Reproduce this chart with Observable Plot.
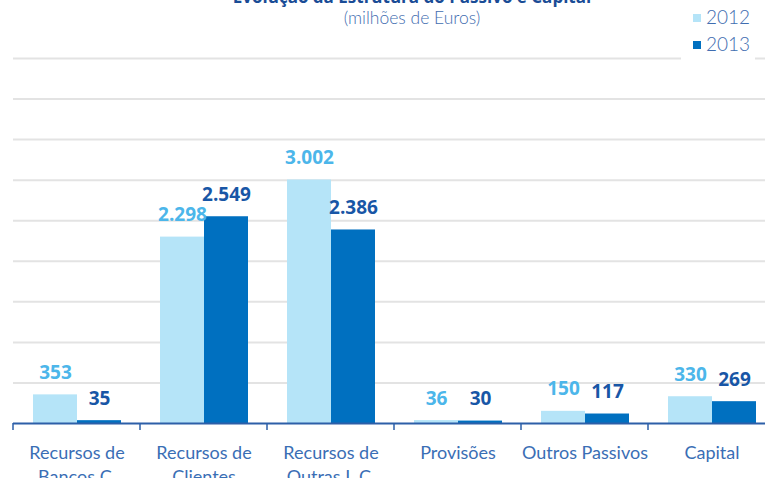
<!DOCTYPE html>
<html>
<head>
<meta charset="utf-8">
<script src="https://cdn.jsdelivr.net/npm/d3@7"></script>
<script src="https://cdn.jsdelivr.net/npm/@observablehq/plot@0.6"></script>
<style>
  html, body { margin: 0; padding: 0; background: #fff; overflow: hidden; }
  #wrap { position: relative; width: 765px; height: 478px; overflow: hidden; font-family: 'Open Sans', 'Noto Sans', sans-serif; }
  #title { position: absolute; left: 0; width: 824px; top: -13px; text-align: center; font-size: 17px; font-weight: bold; color: #1a4c96; line-height: 20px; white-space: nowrap; }
  #subtitle { position: absolute; left: 0; width: 824px; top: 7px; text-align: center; font-size: 17.5px; font-weight: 300; color: #3f6db0; line-height: 22px; white-space: nowrap; font-family: Lato, sans-serif; }
  #legend { position: absolute; left: 681px; top: 0; width: 74px; height: 62px; background: #fff; z-index: 2; }
  .item { position: absolute; left: 12px; height: 20px; line-height: 20px; font-size: 19px; font-weight: 300; color: #3f6db0; font-family: Lato, sans-serif; }
  .sw { display: inline-block; width: 8px; height: 8px; margin-right: 5px; vertical-align: 2px; }
  #chart { position: absolute; left: 0; top: 35px; width: 780px; }
  #chart svg { max-width: none !important; }
</style>
</head>
<body>
<div id="wrap">
  <div id="title"></div>
  <div id="subtitle"></div>
  <div id="legend"></div>
  <div id="chart"></div>
</div>
<script>
const title = "Evolução da Estrutura do Passivo e Capital";
const subtitle = "(milhões de Euros)";
const categories = ["Recursos de\nBancos C.", "Recursos de\nClientes", "Recursos de\nOutras I. C.", "Provisões", "Outros Passivos", "Capital"];
const years = ["2012", "2013"];
const values2012 = [353, 2298, 3002, 36, 150, 330];
const values2013 = [35, 2549, 2386, 30, 117, 269];
const yTicks = [500, 1000, 1500, 2000, 2500, 3000, 3500, 4000, 4500];
const barColors = ["#b5e4f8", "#0070c0"];
const labelColors = ["#4cb6ea", "#1856a6"];

const locale = d3.formatLocale({decimal: ",", thousands: ".", grouping: [3], currency: ["", "€"]});
const fmt = locale.format(",d");

const data = [];
categories.forEach((c, i) => {
  data.push({cat: c, year: years[0], value: values2012[i]});
  data.push({cat: c, year: years[1], value: values2013[i]});
});

document.getElementById("title").textContent = title;
document.getElementById("subtitle").textContent = subtitle;
const leg = document.getElementById("legend");
years.forEach((y, i) => {
  const d = document.createElement("div");
  d.className = "item";
  d.style.top = (7 + i * 27) + "px";
  d.innerHTML = `<span class="sw" style="background:${barColors[i]}"></span>${y}`;
  leg.appendChild(d);
});

const chart = Plot.plot({
  width: 780,
  height: 443,
  marginLeft: 10,
  marginRight: 3,
  marginTop: 23,
  marginBottom: 55,
  style: {fontFamily: "'Open Sans', 'Noto Sans', sans-serif", background: "#fff", maxWidth: "none"},
  fx: {domain: categories, paddingInner: 0, paddingOuter: 0, label: null, axis: null},
  x: {domain: years, paddingInner: 0, paddingOuter: 0.443, axis: null},
  y: {domain: [0, 4500], axis: null},
  color: {domain: years, range: barColors},
  marks: [
    Plot.gridY(yTicks, {stroke: "#e3e3e3", strokeWidth: 2, strokeOpacity: 1}),
    Plot.barY(data, {fx: "cat", x: "year", y: "value", fill: "year"}),
    Plot.ruleY([0], {stroke: "#2d5fa8", strokeWidth: 2}),
    Plot.text(data, {
      fx: "cat", x: "year", y: "value", text: d => fmt(d.value),
      dy: -22, fontSize: 19, fontWeight: "bold",
      fill: d => labelColors[years.indexOf(d.year)]
    }),
    Plot.axisFx({anchor: "bottom", tickSize: 0, tickPadding: 19, fontSize: 18, lineHeight: 1.3, fill: "#3a6eb5", label: null, fontFamily: "Lato, sans-serif"})
  ]
});
document.getElementById("chart").appendChild(chart);

// boundary tick marks between categories, placed with the fx scale
const fxs = chart.scale("fx");
const ys = chart.scale("y");
const svg = d3.select(chart);
const y0 = ys.apply(0);
categories.forEach(c => {
  const x0 = fxs.apply(c);
  svg.append("line").attr("x1", x0).attr("x2", x0).attr("y1", y0).attr("y2", y0 + 7)
    .attr("stroke", "#2d5fa8").attr("stroke-width", 1.5);
});
</script>
</body>
</html>
